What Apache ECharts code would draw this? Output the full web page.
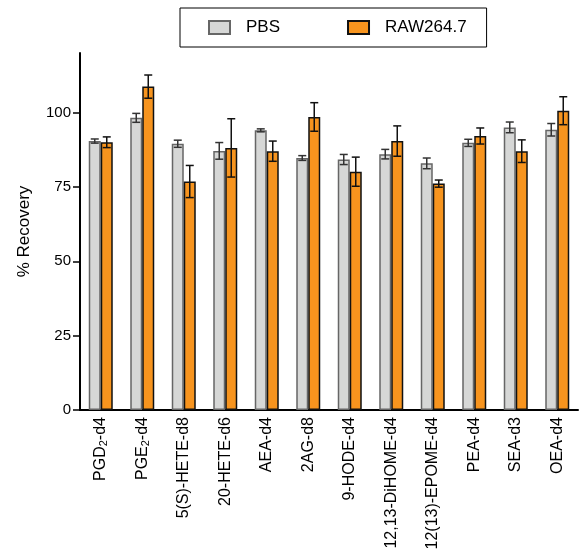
<!DOCTYPE html>
<html>
<head>
<meta charset="utf-8">
<script src="https://cdn.jsdelivr.net/npm/echarts@6.0.0/dist/echarts.min.js"></script>
<style>html,body{margin:0;padding:0;background:#fff;}#c{width:584px;height:556px;}</style>
</head>
<body>
<div id="c"></div>
<script>
const categories = ['PGD2-d4','PGE2-d4','5(S)-HETE-d8','20-HETE-d6','AEA-d4','2AG-d8','9-HODE-d4','12,13-DiHOME-d4','12(13)-EPOME-d4','PEA-d4','SEA-d3','OEA-d4'];
const pbsMean = [90.4, 98.2, 89.5, 87.1, 94.0, 84.7, 84.2, 86.0, 82.9, 89.8, 95.0, 94.2];
const pbsErr  = [0.7, 1.5, 1.2, 2.8, 0.5, 0.8, 1.7, 1.6, 1.8, 1.2, 1.8, 2.1];
const rawMean = [90.0, 108.7, 76.8, 88.1, 87.0, 98.5, 80.1, 90.4, 76.1, 92.1, 87.0, 100.6];
const rawErr  = [1.8, 3.9, 5.4, 9.8, 3.4, 4.8, 4.9, 5.1, 1.2, 2.7, 3.8, 4.7];
const yTicks = [0, 25, 50, 75, 100];

const FONT = 'Liberation Sans, Arial, sans-serif';
const BARW = 12;

function errSeries(name, mean, err, side, color) {
  return {
    type: 'custom',
    name: name + ' err',
    z: 5,
    silent: true,
    renderItem: function (params, api) {
      const i = api.value(0);
      const m = api.value(1), e = api.value(2);
      const pc = api.coord([i, m]);
      const hi = api.coord([i, m + e]);
      const lo = api.coord([i, m - e]);
      const x = pc[0] + side * BARW / 2;
      const cap = 4;
      const st = { stroke: color, lineWidth: 1.5 };
      return {
        type: 'group',
        children: [
          { type: 'line', shape: { x1: x, y1: hi[1], x2: x, y2: lo[1] }, style: st },
          { type: 'line', shape: { x1: x - cap, y1: hi[1], x2: x + cap, y2: hi[1] }, style: st },
          { type: 'line', shape: { x1: x - cap, y1: lo[1], x2: x + cap, y2: lo[1] }, style: st }
        ]
      };
    },
    encode: { x: 0, y: 1 },
    data: mean.map((v, i) => [i, v, err[i]])
  };
}

const chart = echarts.init(document.getElementById('c'), null, { renderer: 'canvas' });
chart.setOption({
  animation: false,
  backgroundColor: '#fff',
  textStyle: { fontFamily: FONT },
  legend: {
    data: ['PBS', 'RAW264.7'],
    icon: 'rect',
    left: 180, top: 8,
    padding: [11, 20, 11, 28],
    borderColor: '#000', borderWidth: 1,
    itemWidth: 21, itemHeight: 13, itemGap: 67,
    textStyle: { fontSize: 17, color: '#000', fontFamily: FONT, padding: [0, 0, 0, 11] }
  },
  grid: { left: 80, right: 6, top: 53, bottom: 146, containLabel: false },
  xAxis: {
    type: 'category',
    data: categories,
    axisLine: { lineStyle: { color: '#000', width: 2 } },
    axisTick: { alignWithLabel: true, length: 5, lineStyle: { color: '#000', width: 1.5 } },
    axisLabel: {
      rotate: 90, interval: 0, margin: 7, color: '#000', fontSize: 16, fontFamily: FONT,
      formatter: function (v) {
        const m = v.match(/^(PG[DE])2(-d4)$/);
        if (m) return '{n|' + m[1] + '}{s|2}{n|' + m[2] + '}';
        return '{n|' + v + '}';
      },
      rich: {
        n: { fontSize: 16, color: '#000', fontFamily: FONT, lineHeight: 18 },
        s: { fontSize: 11, color: '#000', fontFamily: FONT, lineHeight: 18, verticalAlign: 'bottom', padding: [6, 0, 0, 0] }
      }
    }
  },
  yAxis: {
    type: 'value',
    min: 0, max: 120, interval: 25,
    name: '% Recovery',
    nameLocation: 'middle',
    nameGap: 47,
    nameTextStyle: { fontSize: 17, color: '#000', fontFamily: FONT },
    splitLine: { show: false },
    axisLine: { show: true, lineStyle: { color: '#000', width: 2 } },
    axisTick: { show: true, length: 7, customValues: yTicks, lineStyle: { color: '#000', width: 1.5 } },
    axisLabel: { customValues: yTicks, margin: 9, color: '#000', fontSize: 15, fontFamily: FONT }
  },
  series: [
    {
      name: 'PBS', type: 'bar', data: pbsMean,
      barWidth: BARW, barGap: '0%',
      itemStyle: { color: '#d6d7d6', borderColor: '#666', borderWidth: 1.5 }
    },
    {
      name: 'RAW264.7', type: 'bar', data: rawMean,
      barWidth: BARW, barGap: '0%',
      itemStyle: { color: '#f7941e', borderColor: '#111', borderWidth: 1.5 }
    },
    errSeries('PBS', pbsMean, pbsErr, -1, '#333'),
    errSeries('RAW264.7', rawMean, rawErr, 1, '#111')
  ]
});
</script>
</body>
</html>
